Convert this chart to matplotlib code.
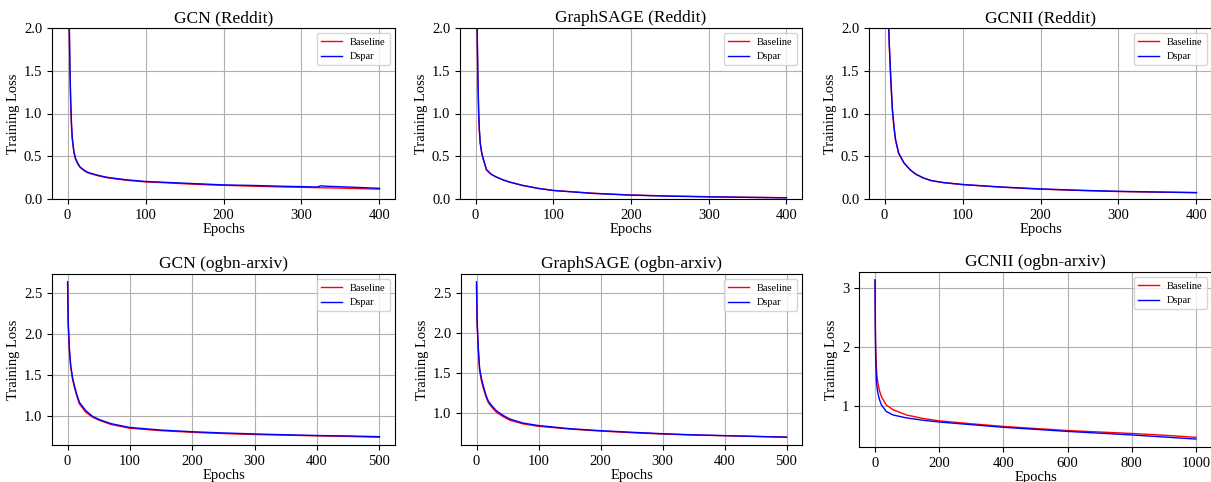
import matplotlib.pyplot as plt
from matplotlib.ticker import MultipleLocator
import numpy as np

plt.rcParams['font.family'] = ['Liberation Serif', 'DejaVu Serif']

# values (epoch, loss)
gcn_reddit_ep = [0, 1, 2, 3, 4, 5, 6, 8, 10, 13, 16, 20, 25, 30, 40, 50, 62, 75, 100, 125, 150, 175, 200, 240, 280, 300, 320, 325, 330, 360, 400]
gcn_reddit_base = [3.7, 2.9, 2.1, 1.5, 1.1, 0.85, 0.7, 0.55, 0.47, 0.41, 0.37, 0.34, 0.31, 0.295, 0.27, 0.25, 0.235, 0.22, 0.2, 0.19, 0.178, 0.168, 0.16, 0.15, 0.14, 0.137, 0.133, 0.132, 0.131, 0.125, 0.115]
gcn_reddit_dspar = [3.7, 2.95, 2.15, 1.55, 1.15, 0.88, 0.72, 0.56, 0.48, 0.42, 0.375, 0.345, 0.315, 0.3, 0.275, 0.255, 0.24, 0.225, 0.205, 0.195, 0.185, 0.175, 0.165, 0.158, 0.148, 0.145, 0.14, 0.155, 0.15, 0.14, 0.125]

sage_reddit_ep = [0, 1, 2, 3, 4, 5, 6, 8, 10, 14, 20, 26, 35, 43, 60, 80, 100, 150, 200, 250, 300, 350, 400]
sage_reddit_base = [3.7, 2.8, 2.0, 1.4, 1.0, 0.78, 0.65, 0.53, 0.46, 0.34, 0.29, 0.26, 0.225, 0.2, 0.16, 0.125, 0.1, 0.068, 0.047, 0.035, 0.027, 0.02, 0.015]
sage_reddit_dspar = [3.7, 2.85, 2.05, 1.45, 1.02, 0.8, 0.66, 0.54, 0.47, 0.345, 0.29, 0.26, 0.225, 0.2, 0.16, 0.125, 0.1, 0.066, 0.045, 0.033, 0.025, 0.019, 0.014]

gcnii_reddit_ep = [0, 2, 4, 6, 8, 10, 12, 14, 18, 25, 33, 40, 50, 60, 76, 100, 150, 200, 250, 300, 350, 400]
gcnii_reddit_base = [3.7, 3.0, 2.35, 1.8, 1.38, 1.04, 0.84, 0.69, 0.53, 0.42, 0.34, 0.29, 0.245, 0.215, 0.19, 0.168, 0.138, 0.115, 0.1, 0.087, 0.08, 0.074]
gcnii_reddit_dspar = [3.7, 3.0, 2.37, 1.82, 1.4, 1.05, 0.85, 0.7, 0.54, 0.42, 0.34, 0.29, 0.245, 0.215, 0.192, 0.17, 0.14, 0.118, 0.102, 0.09, 0.082, 0.075]

gcn_arxiv_ep = [0, 1, 3, 5, 8, 11, 15, 19, 24, 29, 40, 51, 70, 99, 150, 200, 250, 300, 350, 400, 450, 500]
gcn_arxiv_base = [2.62, 2.1, 1.78, 1.6, 1.45, 1.35, 1.24, 1.15, 1.1, 1.05, 0.99, 0.95, 0.9, 0.855, 0.825, 0.805, 0.79, 0.778, 0.77, 0.762, 0.755, 0.745]
gcn_arxiv_dspar = [2.64, 2.15, 1.82, 1.62, 1.47, 1.37, 1.26, 1.17, 1.12, 1.07, 1.0, 0.96, 0.91, 0.865, 0.832, 0.812, 0.797, 0.785, 0.775, 0.766, 0.76, 0.752]

sage_arxiv_ep = [0, 1, 3, 5, 8, 11, 15, 19, 25, 32, 43, 54, 75, 99, 150, 200, 250, 300, 350, 400, 450, 500]
sage_arxiv_base = [2.6, 2.1, 1.77, 1.53, 1.4, 1.31, 1.21, 1.13, 1.07, 1.01, 0.955, 0.91, 0.865, 0.835, 0.8, 0.775, 0.755, 0.738, 0.725, 0.717, 0.708, 0.7]
sage_arxiv_dspar = [2.64, 2.15, 1.8, 1.56, 1.43, 1.34, 1.23, 1.15, 1.09, 1.03, 0.97, 0.925, 0.875, 0.845, 0.805, 0.78, 0.76, 0.742, 0.728, 0.718, 0.708, 0.698]

gcnii_arxiv_ep = [0, 1, 2, 4, 6, 9, 14, 20, 35, 56, 98, 150, 200, 300, 400, 500, 600, 700, 800, 900, 1000]
gcnii_arxiv_base = [3.14, 2.4, 2.0, 1.67, 1.5, 1.38, 1.25, 1.15, 1.01, 0.93, 0.84, 0.78, 0.74, 0.69, 0.645, 0.61, 0.575, 0.55, 0.525, 0.495, 0.46]
gcnii_arxiv_dspar = [3.14, 2.2, 1.8, 1.44, 1.32, 1.21, 1.1, 1.01, 0.9, 0.84, 0.79, 0.75, 0.72, 0.675, 0.63, 0.595, 0.56, 0.53, 0.5, 0.465, 0.43]

panels = [
    ('GCN (Reddit)', gcn_reddit_ep, gcn_reddit_base, gcn_reddit_dspar, (0, 2.0)),
    ('GraphSAGE (Reddit)', sage_reddit_ep, sage_reddit_base, sage_reddit_dspar, (0, 2.0)),
    ('GCNII (Reddit)', gcnii_reddit_ep, gcnii_reddit_base, gcnii_reddit_dspar, (0, 2.0)),
    ('GCN (ogbn-arxiv)', gcn_arxiv_ep, gcn_arxiv_base, gcn_arxiv_dspar, None),
    ('GraphSAGE (ogbn-arxiv)', sage_arxiv_ep, sage_arxiv_base, sage_arxiv_dspar, None),
    ('GCNII (ogbn-arxiv)', gcnii_arxiv_ep, gcnii_arxiv_base, gcnii_arxiv_dspar, None),
]

W, H = 1211, 482
# pixel boxes (left, top, right, bottom)
boxes = [(52, 28, 395, 199), (460, 28, 802, 199), (869, 28, 1212, 199),
         (52, 274, 395, 445), (461, 274, 802, 445), (859, 272, 1212, 447)]

fig = plt.figure(figsize=(W / 100, H / 100), dpi=100)

for i, ((title, ep, base, dspar, ylim), (l, t, r, b)) in enumerate(zip(panels, boxes)):
    ax = fig.add_axes([l / W, 1 - b / H, (r - l) / W, (b - t) / H])
    ax.plot(ep, base, color='red', lw=1, label='Baseline')
    ax.plot(ep, dspar, color='blue', lw=1, label='Dspar')
    if ylim:
        ax.set_ylim(*ylim)
    if i == 5:
        ax.yaxis.set_major_locator(MultipleLocator(1))
    ax.grid(True)
    ax.set_title(title, fontsize=12.5, pad=4)
    ax.set_xlabel('Epochs', fontsize=10.5, labelpad=1)
    ax.set_ylabel('Training Loss', fontsize=10.5, labelpad=3)
    ax.tick_params(labelsize=10.5)
    ax.legend(loc='upper right', fontsize=7.5)

fig.savefig('out.png', dpi=100)
